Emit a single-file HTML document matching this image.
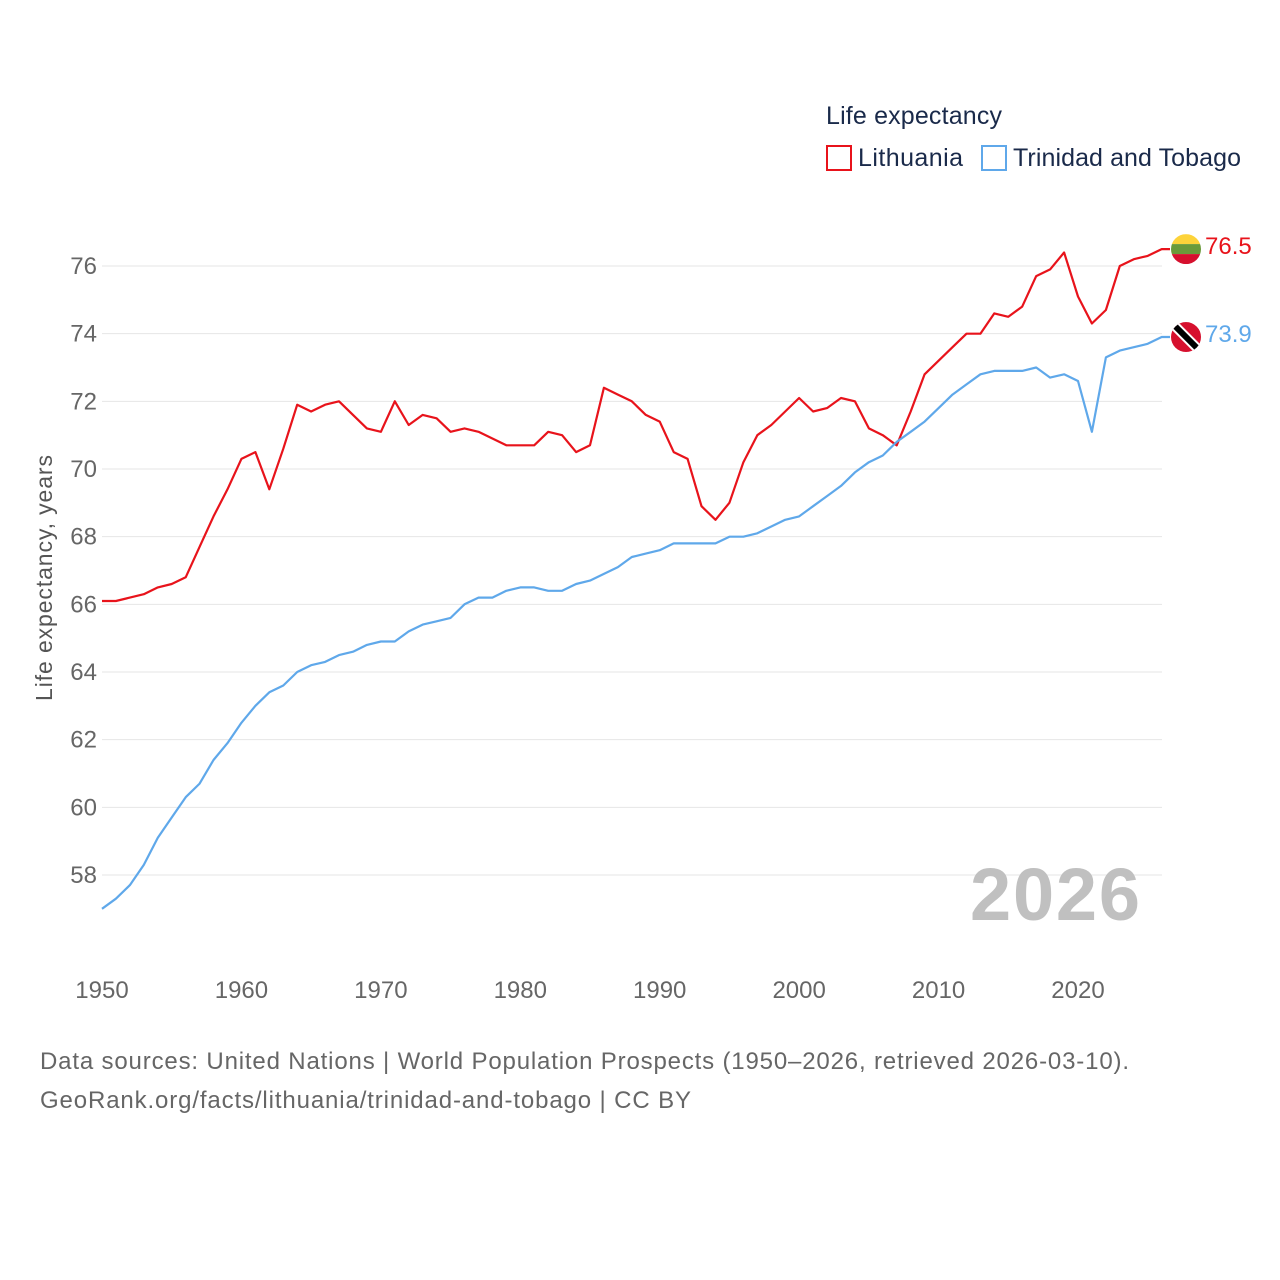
<!DOCTYPE html>
<html><head><meta charset="utf-8">
<style>
body{margin:0;background:#fff;font-family:"Liberation Sans",sans-serif;}
svg{display:block}
</style></head>
<body>
<svg id="chart" width="1280" height="1280" viewBox="0 0 1280 1280">
  <text x="826" y="124" font-size="25" fill="#1a2a4a" textLength="176">Life expectancy</text>
  <g>
    <rect x="827" y="146" width="24" height="24" fill="none" stroke="#e8131b" stroke-width="2"/>
    <text x="858" y="166" font-size="25" fill="#1a2a4a" textLength="105">Lithuania</text>
  </g>
  <g>
    <rect x="982" y="146" width="24" height="24" fill="none" stroke="#5fa8ea" stroke-width="2"/>
    <text x="1013" y="166" font-size="25" fill="#1a2a4a" textLength="228">Trinidad and Tobago</text>
  </g>
  <g id="grid"></g>
  <g id="yticks"></g>
  <g id="xticks"></g>
  <text x="52" y="578" font-size="23" fill="#555" text-anchor="middle" transform="rotate(-90 52 578)" textLength="246">Life expectancy, years</text>
  <text x="970" y="920" font-size="74" font-weight="bold" fill="#c0c0c0" textLength="170">2026</text>
  <g id="series"></g>
  <text x="40" y="1069" font-size="24" fill="#666" textLength="1089">Data sources: United Nations | World Population Prospects (1950–2026, retrieved 2026-03-10).</text>
  <text x="40" y="1108" font-size="24" fill="#666" textLength="651">GeoRank.org/facts/lithuania/trinidad-and-tobago | CC BY</text>
</svg>
<script>
const years = [];
for (let y = 1950; y <= 2026; y++) years.push(y);
const lithuania = [66.1,66.1,66.2,66.3,66.5,66.6,66.8,67.7,68.6,69.4,70.3,70.5,69.4,70.6,71.9,71.7,71.9,72.0,71.6,71.2,71.1,72.0,71.3,71.6,71.5,71.1,71.2,71.1,70.9,70.7,70.7,70.7,71.1,71.0,70.5,70.7,72.4,72.2,72.0,71.6,71.4,70.5,70.3,68.9,68.5,69.0,70.2,71.0,71.3,71.7,72.1,71.7,71.8,72.1,72.0,71.2,71.0,70.7,71.7,72.8,73.2,73.6,74.0,74.0,74.6,74.5,74.8,75.7,75.9,76.4,75.1,74.3,74.7,76.0,76.2,76.3,76.5];
const trinidad = [57.0,57.3,57.7,58.3,59.1,59.7,60.3,60.7,61.4,61.9,62.5,63.0,63.4,63.6,64.0,64.2,64.3,64.5,64.6,64.8,64.9,64.9,65.2,65.4,65.5,65.6,66.0,66.2,66.2,66.4,66.5,66.5,66.4,66.4,66.6,66.7,66.9,67.1,67.4,67.5,67.6,67.8,67.8,67.8,67.8,68.0,68.0,68.1,68.3,68.5,68.6,68.9,69.2,69.5,69.9,70.2,70.4,70.8,71.1,71.4,71.8,72.2,72.5,72.8,72.9,72.9,72.9,73.0,72.7,72.8,72.6,71.1,73.3,73.5,73.6,73.7,73.9];
const yTicks = [58,60,62,64,66,68,70,72,74,76];
const xTicks = [1950,1960,1970,1980,1990,2000,2010,2020];

const NS = "http://www.w3.org/2000/svg";
const xs = y => 102 + (y - 1950) * (976 / 70);
const ys = v => 266 + (76 - v) * (609 / 18);
function mk(tag, attrs, parent) {
  const e = document.createElementNS(NS, tag);
  for (const k in attrs) e.setAttribute(k, attrs[k]);
  parent.appendChild(e); return e;
}
const grid = document.getElementById('grid');
const yt = document.getElementById('yticks');
const xt = document.getElementById('xticks');
const ser = document.getElementById('series');
yTicks.forEach(v => {
  const l = mk('line', {x1: 102, x2: 1162, y1: ys(v), y2: ys(v), stroke: '#e6e6e6', 'stroke-width': 1}, grid);
  
  
  const t = mk('text', {x: 97, y: ys(v) + 8, 'font-size': 24, fill: '#666', 'text-anchor': 'end'}, yt);
  t.textContent = v;
  
  
});
xTicks.forEach(y => {
  const t = mk('text', {x: xs(y), y: 998, 'font-size': 24, fill: '#666', 'text-anchor': 'middle'}, xt);
  t.textContent = y;
  
  
});
function drawLine(vals, color, name) {
  let d = vals.map((v, i) => (i ? 'L' : 'M') + xs(years[i]).toFixed(1) + ',' + ys(v).toFixed(1)).join('');
  const last = vals[vals.length - 1];
  d += 'L1170,' + ys(last).toFixed(1);
  const p = mk('path', {d: d, fill: 'none', stroke: color, 'stroke-width': 2.2, 'stroke-linejoin': 'round'}, ser);
  
  
  const t = mk('text', {x: 1205, y: ys(last) + 5, 'font-size': 24, fill: color}, ser);
  t.textContent = last.toFixed(1);
  
  
  return ys(last);
}
const ly = drawLine(lithuania, '#e8131b', 'lithuania');
const ty = drawLine(trinidad, '#5fa8ea', 'trinidad');
const fl = mk('g', {}, ser);


mk('clipPath', {id: 'c1'}, fl).appendChild(document.createElementNS(NS, 'circle'));
const c1 = fl.querySelector('#c1 circle'); c1.setAttribute('cx', 1186); c1.setAttribute('cy', ly); c1.setAttribute('r', 15);
const g1 = mk('g', {'clip-path': 'url(#c1)'}, fl);
mk('rect', {x: 1171, y: ly - 15, width: 30, height: 10, fill: '#fdd33a'}, g1);
mk('rect', {x: 1171, y: ly - 5, width: 30, height: 10, fill: '#6a9a3a'}, g1);
mk('rect', {x: 1171, y: ly + 5, width: 30, height: 10, fill: '#d6102e'}, g1);
const ft = mk('g', {}, ser);


mk('clipPath', {id: 'c2'}, ft).appendChild(document.createElementNS(NS, 'circle'));
const c2 = ft.querySelector('#c2 circle'); c2.setAttribute('cx', 1186); c2.setAttribute('cy', ty); c2.setAttribute('r', 15);
const g2 = mk('g', {'clip-path': 'url(#c2)'}, ft);
mk('rect', {x: 1171, y: ty - 15, width: 30, height: 30, fill: '#d6102e'}, g2);
mk('line', {x1: 1173, y1: ty - 13, x2: 1199, y2: ty + 13, stroke: '#fff', 'stroke-width': 10}, g2);
mk('line', {x1: 1173, y1: ty - 13, x2: 1199, y2: ty + 13, stroke: '#000', 'stroke-width': 6}, g2);
</script>
</body></html>
